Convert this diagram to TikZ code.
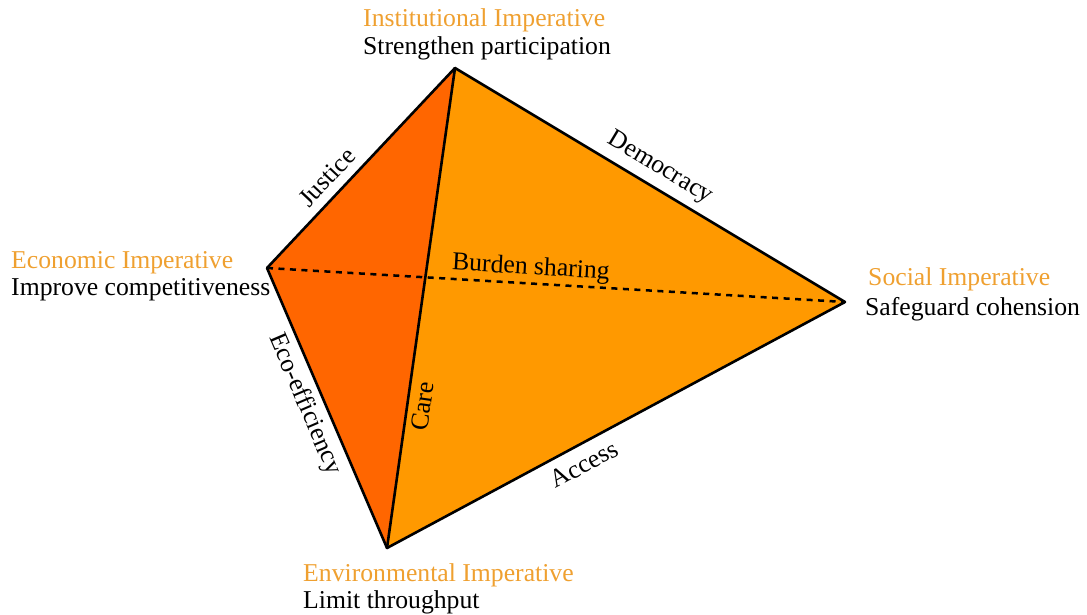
\documentclass[tikz,border=0pt]{standalone}
\usepackage{fontspec}
\setmainfont{Liberation Serif}
\definecolor{faceDark}{HTML}{FF6600}
\definecolor{faceLight}{HTML}{FF9900}
\definecolor{imperative}{HTML}{EFA030}
\begin{document}
\begin{tikzpicture}[x=1pt,y=-1pt,
  every node/.style={font=\fontsize{25.7}{30}\selectfont},
  ridge/.style={line width=2.6pt, line join=round, line cap=round},
  hidden/.style={line width=2.5pt, dash pattern=on 6pt off 5.5pt},
  impname/.style={text=imperative, anchor=base west, inner sep=0pt},
  impgoal/.style={text=black, anchor=base west, inner sep=0pt},
  edgelabel/.style={sloped, inner sep=0pt}]
\useasboundingbox (0,0) rectangle (1087,615);

% vertices of the tetrahedron
\coordinate (T) at (455,68);
\coordinate (L) at (267,268);
\coordinate (R) at (845,302);
\coordinate (B) at (387,548);

% visible faces
\fill[faceDark]  (T) -- (L) -- (B) -- cycle;
\fill[faceLight] (T) -- (B) -- (R) -- cycle;

% hidden edge
\draw[hidden] (L) -- (R)
  node[edgelabel, pos=0.455, above=2.3pt] (burden) {Burden sharing};

% outer and front edges
\draw[ridge] (L) -- (T)
  node[edgelabel, pos=0.39, above=8.5pt] (justice) {Justice};
\draw[ridge] (T) -- (R)
  node[edgelabel, pos=0.50, above=7pt] (democracy) {Democracy};
\draw[ridge] (L) -- (B)
  node[edgelabel, pos=0.46, below=6pt] (eco) {Eco-efficiency};
\draw[ridge] (B) -- (R)
  node[edgelabel, pos=0.41, below=9.5pt] (access) {Access};
\draw[ridge] (B) -- (T)
  node[edgelabel, pos=0.30, below=5.5pt] (care) {Care};

% imperatives at the vertices
\node[impname] (instN) at (363,27)  {Institutional Imperative};
\node[impgoal] (instG) at (363,55)  {Strengthen participation};
\node[impname] (econN) at (11,268)  {Economic Imperative};
\node[impgoal] (econG) at (11,295)  {Improve competitiveness};
\node[impname] (socN)  at (868,285) {Social Imperative};
\node[impgoal] (socG)  at (865,315) {Safeguard cohension};
\node[impname] (envN)  at (303,581) {Environmental Imperative};
\node[impgoal] (envG)  at (303,608) {Limit throughput};
\end{tikzpicture}
\end{document}
